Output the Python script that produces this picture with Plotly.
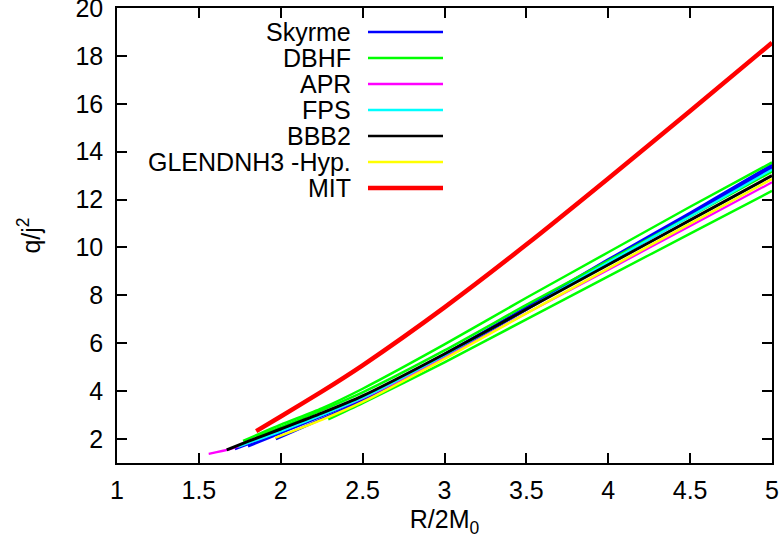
import plotly.graph_objects as go

# ---------------- data ----------------
skyrme_1_x = [1.72, 2.0, 2.5, 3.0, 3.5, 4.0, 4.5, 5.0]
skyrme_1_y = [1.58, 2.30, 3.75, 5.55, 7.50, 9.50, 11.45, 13.45]
skyrme_2_x = [1.80, 2.0, 2.5, 3.0, 3.5, 4.0, 4.5, 5.0]
skyrme_2_y = [1.70, 2.25, 3.70, 5.50, 7.45, 9.45, 11.40, 13.38]
skyrme_3_x = [1.97, 2.5, 3.0, 3.5, 4.0, 4.5, 5.0]
skyrme_3_y = [2.00, 3.62, 5.45, 7.40, 9.38, 11.33, 13.30]

dbhf_1_x = [1.77, 2.0, 2.25, 2.5, 3.0, 3.5, 4.0, 4.5, 5.0]
dbhf_1_y = [1.92, 2.60, 3.28, 4.10, 5.95, 7.90, 9.80, 11.70, 13.55]
dbhf_2_x = [1.85, 2.0, 2.5, 3.0, 3.5, 4.0, 4.5, 5.0]
dbhf_2_y = [2.10, 2.50, 3.95, 5.70, 7.60, 9.45, 11.30, 13.17]
dbhf_3_x = [2.29, 2.5, 3.0, 3.5, 4.0, 4.5, 5.0]
dbhf_3_y = [2.82, 3.50, 5.20, 7.00, 8.79, 10.58, 12.36]

apr_x = [1.56, 1.70, 2.0, 2.5, 3.0, 3.5, 4.0, 4.5, 5.0]
apr_y = [1.38, 1.60, 2.35, 3.70, 5.40, 7.25, 9.07, 10.90, 12.72]

fps_x = [1.74, 2.0, 2.5, 3.0, 3.5, 4.0, 4.5, 5.0]
fps_y = [1.68, 2.32, 3.72, 5.50, 7.42, 9.38, 11.30, 13.25]

bbb2_x = [1.67, 1.8, 2.0, 2.25, 2.5, 3.0, 3.5, 4.0, 4.5, 5.0]
bbb2_y = [1.55, 1.90, 2.42, 3.08, 3.80, 5.55, 7.42, 9.28, 11.14, 13.00]

glen_x = [1.965, 2.25, 2.5, 3.0, 3.5, 4.0, 4.5, 5.0]
glen_y = [2.05, 2.80, 3.55, 5.35, 7.25, 9.13, 11.00, 12.86]

mit_x = [1.85, 2.0, 2.25, 2.5, 3.0, 3.5, 4.0, 4.5, 5.0]
mit_y = [2.33, 2.94, 3.98, 5.08, 7.50, 10.12, 12.88, 15.70, 18.55]

legend_names = ["Skyrme", "DBHF", "APR", "FPS", "BBB2", "GLENDNH3 -Hyp.", "MIT"]
legend_colors = ["#0000ff", "#00ff00", "#ff00ff", "#00ffff", "#000000", "#ffff00", "#ff0000"]
legend_widths = [2.5, 2.5, 2.5, 2.5, 2.5, 2.5, 4.5]

x_ticks = [1, 1.5, 2, 2.5, 3, 3.5, 4, 4.5, 5]
y_ticks = [2, 4, 6, 8, 10, 12, 14, 16, 18, 20]

# ---------------- figure ----------------
series = [
    (skyrme_1_x, skyrme_1_y, "#0000ff", 2.5),
    (skyrme_2_x, skyrme_2_y, "#0000ff", 2.5),
    (skyrme_3_x, skyrme_3_y, "#0000ff", 2.5),
    (dbhf_1_x, dbhf_1_y, "#00ff00", 2.5),
    (dbhf_2_x, dbhf_2_y, "#00ff00", 2.5),
    (dbhf_3_x, dbhf_3_y, "#00ff00", 2.5),
    (apr_x, apr_y, "#ff00ff", 2.2),
    (fps_x, fps_y, "#00ffff", 2.2),
    (bbb2_x, bbb2_y, "#000000", 3),
    (glen_x, glen_y, "#ffff00", 2.5),
    (mit_x, mit_y, "#ff0000", 4.5),
]

fig = go.Figure()
for xs, ys, col, w in series:
    fig.add_trace(go.Scatter(x=xs, y=ys, mode="lines", line=dict(color=col, width=w, shape="spline", smoothing=0.6),
                             showlegend=False, hoverinfo="skip"))

W, H = 784, 543
ml, mr, mt, mb = 117, 12, 8, 80
pw, ph = W - ml - mr, H - mt - mb

def px_to_paper_x(px):
    return (px - ml) / pw

def px_to_paper_y(py):
    return 1 - (py - mt) / ph

font = dict(family="Liberation Sans, Arial, sans-serif", size=25, color="black")

shapes = []
annotations = []
row0, step = 32, 26
for i, (name, col, w) in enumerate(zip(legend_names, legend_colors, legend_widths)):
    yy = px_to_paper_y(row0 + i * step)
    annotations.append(dict(x=px_to_paper_x(352), y=yy, xref="paper", yref="paper", text=name,
                            showarrow=False, xanchor="right", yanchor="middle", font=font, borderpad=0))
    shapes.append(dict(type="line", xref="paper", yref="paper", x0=px_to_paper_x(368), x1=px_to_paper_x(443),
                       y0=yy, y1=yy, line=dict(color=col, width=w)))

axis_common = dict(showline=True, linecolor="black", linewidth=1.5, mirror="ticks", ticks="inside",
                   ticklen=10, tickwidth=1.5, tickcolor="black", showgrid=False, zeroline=False,
                   tickfont=font, ticklabeloverflow="allow", automargin=False)

fig.update_layout(
    width=W, height=H,
    margin=dict(l=ml, r=mr, t=mt, b=mb, autoexpand=False),
    plot_bgcolor="white", paper_bgcolor="white",
    font=font,
    shapes=shapes, annotations=annotations,
    xaxis=dict(range=[1, 5], tickvals=x_ticks, ticktext=[f"{v:g}" for v in x_ticks],
               title=dict(text="R/2M<sub>0</sub>", font=font, standoff=8), ticklabelstandoff=4, **axis_common),
    yaxis=dict(range=[1, 20], tickvals=y_ticks, ticktext=[str(v) for v in y_ticks],
               title=dict(text="q/j<sup>2</sup>", font=font, standoff=28), ticklabelstandoff=7, **axis_common),
)

fig.write_html("out.html")
